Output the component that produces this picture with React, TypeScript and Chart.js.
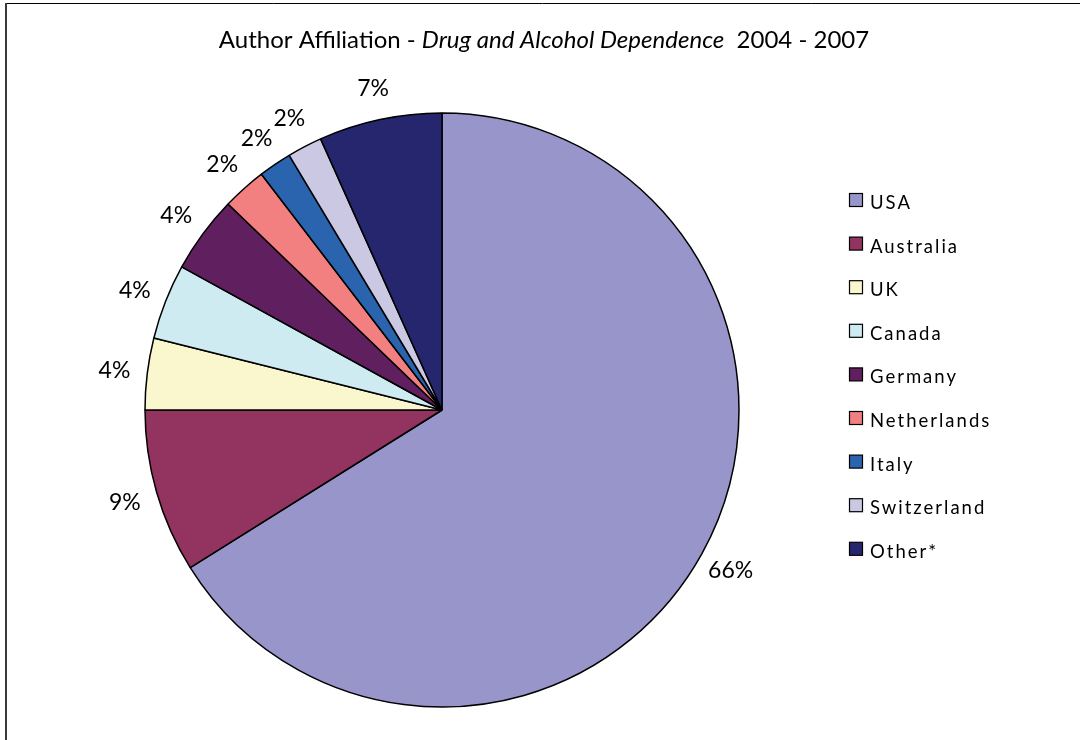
import React, { useEffect, useRef } from "react";
import { Chart, registerables } from "chart.js";

Chart.register(...registerables);

const categories = ["USA", "Australia", "UK", "Canada", "Germany", "Netherlands", "Italy", "Switzerland", "Other*"];
const shares = [66.1, 8.9, 3.9, 4.1, 4.2, 2.4, 1.8, 1.9, 6.7];
const sliceColors = ["#9795C9", "#933360", "#FAF7CE", "#CDEBF0", "#601F5F", "#F28080", "#2A64AE", "#CBC8E4", "#26266E"];
const titleParts = [
  { text: "Author Affiliation - ", italic: false },
  { text: "Drug and Alcohol Dependence", italic: true },
  { text: "  2004 - 2007", italic: false },
];

const FONT = "Lato, 'Open Sans', sans-serif";

const framePlugin = {
  id: "frame",
  beforeDraw(chart: any) {
    const ctx = chart.ctx;
    ctx.save();
    ctx.fillStyle = "#ffffff";
    ctx.fillRect(0, 0, chart.width, chart.height);
    ctx.strokeStyle = "#000000";
    ctx.lineWidth = 1;
    ctx.beginPath();
    ctx.moveTo(5, 3.5);
    ctx.lineTo(chart.width, 3.5);
    ctx.stroke();
    ctx.strokeStyle = "#3a3a3a";
    ctx.lineWidth = 2;
    ctx.beginPath();
    ctx.moveTo(6, 3);
    ctx.lineTo(6, chart.height);
    ctx.stroke();
    ctx.restore();
  },
};

const titlePlugin = {
  id: "mixedTitle",
  afterDraw(chart: any) {
    const ctx = chart.ctx;
    ctx.save();
    ctx.fillStyle = "#000000";
    ctx.textBaseline = "alphabetic";
    const size = 24;
    const fontFor = (it: boolean) => `${it ? "italic " : ""}${size}px ${FONT}`;
    let total = 0;
    const widths = titleParts.map((p) => {
      ctx.font = fontFor(p.italic);
      const w = ctx.measureText(p.text).width;
      total += w;
      return w;
    });
    let x = 544 - total / 2;
    titleParts.forEach((p, i) => {
      ctx.font = fontFor(p.italic);
      ctx.textAlign = "left";
      ctx.fillText(p.text, x, 48);
      x += widths[i];
    });
    ctx.restore();
  },
};

const labelPlugin = {
  id: "outsideLabels",
  afterDatasetsDraw(chart: any) {
    const ctx = chart.ctx;
    const meta = chart.getDatasetMeta(0);
    const data = chart.data.datasets[0].data as number[];
    const total = data.reduce((a, b) => a + b, 0);
    ctx.save();
    ctx.fillStyle = "#000000";
    ctx.font = `23px ${FONT}`;
    ctx.textAlign = "left";
    ctx.textBaseline = "alphabetic";
    meta.data.forEach((arc: any, i: number) => {
      const { x, y, startAngle, endAngle, outerRadius } = arc.getProps(["x", "y", "startAngle", "endAngle", "outerRadius"], true);
      const mid = (startAngle + endAngle) / 2;
      const dist = outerRadius + 33;
      const cx = x + dist * Math.cos(mid);
      const cy = y + dist * Math.sin(mid);
      const txt = Math.round((data[i] / total) * 100) + "%";
      const m = ctx.measureText(txt);
      const w = m.width;
      const asc = m.actualBoundingBoxAscent;
      const desc = m.actualBoundingBoxDescent;
      ctx.fillText(txt, cx - w / 2, cy - (asc + desc) / 2 + asc);
    });
    ctx.restore();
  },
};

const legendPlugin = {
  id: "sideLegend",
  afterDraw(chart: any) {
    const ctx = chart.ctx;
    const labels = chart.data.labels as string[];
    const colors = chart.data.datasets[0].backgroundColor as string[];
    ctx.save();
    ctx.font = `18.5px ${FONT}`;
    (ctx as any).letterSpacing = "2px";
    ctx.textAlign = "left";
    ctx.textBaseline = "middle";
    labels.forEach((lab, i) => {
      const cy = 203 + i * 43.6;
      ctx.fillStyle = colors[i];
      ctx.fillRect(849.5, cy - 9.5, 13, 13);
      ctx.strokeStyle = "#000000";
      ctx.lineWidth = 1.2;
      ctx.strokeRect(849.5, cy - 9.5, 13, 13);
      ctx.fillStyle = "#000000";
      ctx.fillText(lab, 870, cy);
    });
    ctx.restore();
  },
};

export default function App() {
  const ref = useRef<HTMLCanvasElement | null>(null);
  useEffect(() => {
    if (!ref.current) return;
    const chart = new Chart(ref.current, {
      type: "pie",
      data: {
        labels: categories,
        datasets: [
          {
            data: shares,
            backgroundColor: sliceColors,
            borderColor: "#000000",
            borderWidth: 1.5,
          },
        ],
      },
      options: {
        animation: false,
        responsive: false,
        events: [],
        radius: 297,
        layout: { padding: { left: 145, right: 341, top: 113, bottom: 33 } },
        plugins: {
          legend: { display: false },
          title: { display: false },
          tooltip: { enabled: false },
        },
      } as any,
      plugins: [framePlugin, titlePlugin, labelPlugin, legendPlugin],
    });
    return () => chart.destroy();
  }, []);
  return (
    <div style={{ position: "fixed", left: 0, top: 0, width: 1080, height: 740 }}>
      <canvas ref={ref} width={1080} height={740} style={{ width: 1080, height: 740 }} />
    </div>
  );
}
